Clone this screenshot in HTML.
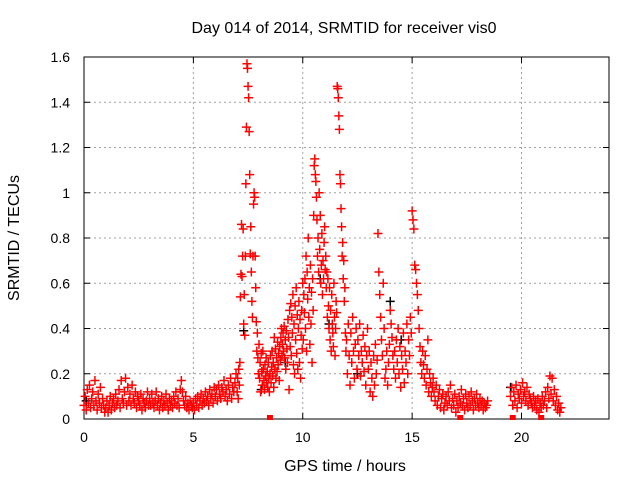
<!DOCTYPE html>
<html><head><meta charset="utf-8"><style>
body{margin:0;background:#fff;}
svg{display:block;font-family:"Liberation Sans",sans-serif;}
</style></head><body>
<svg id="chart" width="640" height="480">
<g id="grid"></g>
<g id="axes"></g>
<g id="marks"></g>
<text x="344" y="33" text-anchor="middle" font-size="16">Day 014 of 2014, SRMTID for receiver vis0</text>
<text x="345" y="471" text-anchor="middle" font-size="16">GPS time / hours</text>
<text x="0" y="0" transform="translate(19,238) rotate(-90)" text-anchor="middle" font-size="16">SRMTID / TECUs</text>
</svg>
<script>
const xTicks=[0,5,10,15,20];
const yTicks=[0,0.2,0.4,0.6,0.8,1,1.2,1.4,1.6];
const yTickLabels=["0","0.2","0.4","0.6","0.8","1","1.2","1.4","1.6"];
const segStarts=[0,7.0,8.0,10.0,12.0,16.0,19.5];
const segSteps=[0.05,0.025,0.025,0.025,0.04,0.05,0.05];
const seg1=[0.06,0.10,0.04,0.13,0.07,0.15,0.05,0.09,0.12,0.06,0.17,0.08,0.04,0.11,0.07,0.14,0.05,0.09,0.06,0.03,
0.05,0.08,0.03,0.06,0.10,0.04,0.07,0.09,0.05,0.11,0.06,0.08,0.13,0.05,0.17,0.09,0.07,0.12,0.18,0.06,
0.14,0.08,0.11,0.06,0.15,0.09,0.07,0.12,0.05,0.10,0.08,0.06,0.11,0.04,0.09,0.07,0.05,0.08,0.12,0.06,
0.09,0.06,0.11,0.07,0.05,0.08,0.12,0.06,0.09,0.04,0.07,0.10,0.05,0.08,0.06,0.11,0.07,0.04,0.09,0.06,
0.08,0.05,0.10,0.07,0.12,0.06,0.09,0.05,0.13,0.17,0.12,0.08,0.06,0.10,0.05,0.07,0.04,0.08,0.06,0.05,
0.07,0.04,0.09,0.06,0.10,0.05,0.08,0.11,0.06,0.09,0.07,0.12,0.08,0.10,0.06,0.13,0.09,0.11,0.07,0.14,
0.10,0.13,0.08,0.15,0.11,0.09,0.14,0.12,0.17,0.10,0.13,0.08,0.15,0.11,0.18,0.09,0.14,0.12,0.16,0.20];
const seg2=[0.12,0.18,0.09,0.22,0.15,0.25,0.54,0.64,0.86,0.63,0.72,0.84,0.42,0.55,0.37,0.72,1.04,1.29,1.57,1.55,
1.47,1.42,1.27,1.08,0.73,0.85,0.65,0.52,0.45,0.72,0.95,1.00,0.98,0.72,0.58,0.43,0.30,0.38,0.27,0.20];
const seg3=[0.33,0.18,0.25,0.12,0.29,0.21,0.15,0.30,0.22,0.17,0.13,0.24,0.19,0.27,0.16,0.21,0.14,0.25,0.18,0.12,
0.20,0.28,0.16,0.23,0.30,0.19,0.25,0.14,0.36,0.22,0.31,0.18,0.27,0.21,0.34,0.24,0.29,0.17,0.32,0.26,
0.36,0.40,0.28,0.33,0.38,0.30,0.41,0.27,0.35,0.22,0.39,0.31,0.25,0.44,0.36,0.13,0.48,0.32,0.51,0.28,
0.45,0.38,0.55,0.24,0.42,0.20,0.50,0.35,0.58,0.29,0.46,0.22,0.40,0.52,0.25,0.44,0.18,0.37,0.48,0.31];
const seg4=[0.60,0.35,0.55,0.47,0.62,0.40,0.72,0.30,0.65,0.53,0.80,0.45,0.58,0.33,0.68,0.42,0.56,0.25,0.62,0.48,
0.90,1.12,1.15,1.08,1.05,0.98,0.88,0.72,0.80,0.65,1.00,0.75,0.90,0.60,0.68,0.82,0.55,0.70,0.62,0.78,
0.85,0.66,0.72,0.58,0.65,0.45,0.62,0.50,0.40,0.58,0.35,0.48,0.30,0.55,0.42,0.38,0.32,0.60,0.45,0.28,
0.40,0.52,0.47,1.47,1.46,1.42,1.34,1.28,1.08,1.04,0.93,0.85,0.72,0.78,0.62,0.70,0.52,0.58,0.38,0.30];
const seg5=[0.35,0.20,0.42,0.28,0.15,0.38,0.25,0.45,0.30,0.18,0.33,0.40,0.22,0.35,0.28,0.42,0.19,0.30,0.25,0.37,0.21,0.32,0.15,0.28,0.40,
0.22,0.30,0.12,0.25,0.18,0.10,0.28,0.15,0.33,0.20,0.26,0.82,0.65,0.55,0.45,0.35,0.28,0.60,0.40,0.18,0.22,0.30,0.15,0.25,0.33,
0.48,0.42,0.36,0.28,0.22,0.30,0.18,0.35,0.25,0.40,0.20,0.32,0.14,0.28,0.22,0.38,0.16,0.30,0.25,0.42,0.20,0.35,0.28,0.45,0.38,
0.92,0.88,0.84,0.68,0.66,0.60,0.55,0.48,0.40,0.32,0.25,0.20,0.30,0.24,0.18,0.28,0.15,0.22,0.35,0.12,0.20,0.16,0.10,0.14,0.18];
const seg6=[0.12,0.08,0.15,0.06,0.10,0.13,0.05,0.09,0.11,0.04,0.07,0.10,0.06,0.12,0.08,0.15,0.05,0.09,0.06,0.11,
0.03,0.08,0.05,0.10,0.07,0.13,0.06,0.09,0.04,0.11,0.07,0.05,0.10,0.06,0.12,0.08,0.04,0.09,0.06,0.11,0.07,0.05,0.09,0.06,0.08,0.04,0.07,0.05,0.06,0.08];
const seg7=[0.10,0.14,0.06,0.12,0.08,0.15,0.05,0.11,0.09,0.13,0.07,0.16,0.10,0.12,0.08,0.14,0.06,0.11,0.09,0.07,
0.05,0.10,0.06,0.08,0.04,0.09,0.03,0.07,0.05,0.10,0.06,0.08,0.12,0.05,0.14,0.09,0.19,0.11,0.18,0.08,0.13,0.06,0.10,0.04,0.07,0.03,0.05];
const segValues=[seg1,seg2,seg3,seg4,seg5,seg6,seg7];
const blackTimes=[0.1,7.3,8.1,9.2,10.8,11.2,12.5,14.0,14.5,19.5];
const blackValues=[0.08,0.39,0.13,0.25,0.62,0.42,0.20,0.52,0.35,0.14];
const zeroTimes=[8.5,17.2,19.6,20.9];

const L=84,R=609,T=57,B=419,XMAX=24,YMAX=1.6;
const xs=v=>L+(v/XMAX)*(R-L);
const ys=v=>B-(v/YMAX)*(B-T);
const NS="http://www.w3.org/2000/svg";
function mk(tag,attrs,parent){const e=document.createElementNS(NS,tag);for(const k in attrs)e.setAttribute(k,attrs[k]);parent.appendChild(e);return e;}
const grid=document.getElementById('grid'),axes=document.getElementById('axes'),marks=document.getElementById('marks');

xTicks.forEach(t=>{
  const x=xs(t);
  if(t>0){const g=mk('line',{x1:x,x2:x,y1:T,y2:B,stroke:'#a0a0a0','stroke-dasharray':'2,3'},grid);
  
  }
  const a=mk('line',{x1:x,x2:x,y1:B,y2:B-6,stroke:'#000'},axes);
  
  
  const b=mk('line',{x1:x,x2:x,y1:T,y2:T+6,stroke:'#000'},axes);
  
  
  const tx=mk('text',{x:x,y:B+23,'text-anchor':'middle','font-size':14},axes);
  tx.textContent=String(t);
  
  
});
yTicks.forEach((t,i)=>{
  const y=ys(t);
  if(t>0&&t<YMAX){const g=mk('line',{x1:L,x2:R,y1:y,y2:y,stroke:'#a0a0a0','stroke-dasharray':'2,3'},grid);
  
  }
  const a=mk('line',{x1:L,x2:L+6,y1:y,y2:y,stroke:'#000'},axes);
  
  
  const b=mk('line',{x1:R,x2:R-6,y1:y,y2:y,stroke:'#000'},axes);
  
  
  const tx=mk('text',{x:L-14,y:y+5,'text-anchor':'end','font-size':14},axes);
  tx.textContent=yTickLabels[i];
  
  
});
const frame=mk('rect',{x:L,y:T,width:R-L,height:B-T,fill:'none',stroke:'#000'},axes);



function plus(t,v,color,name){
  const x=xs(t),y=ys(v);
  const p=mk('path',{d:`M${x-4.5},${y}H${x+4.5}M${x},${y-4.5}V${y+4.5}`,stroke:color,'stroke-width':1.5,fill:'none'},marks);
  
  
}
blackTimes.forEach((t,i)=>plus(t,blackValues[i],'#000','black-point'));
segValues.forEach((arr,s)=>{
  arr.forEach((v,i)=>plus(segStarts[s]+i*segSteps[s],v,'#ff0000','red-point'));
});
zeroTimes.forEach(t=>{
  const r=mk('rect',{x:xs(t)-3,y:B-4,width:6,height:5,fill:'#ff0000'},marks);
  
  
});
</script>
</body></html>
